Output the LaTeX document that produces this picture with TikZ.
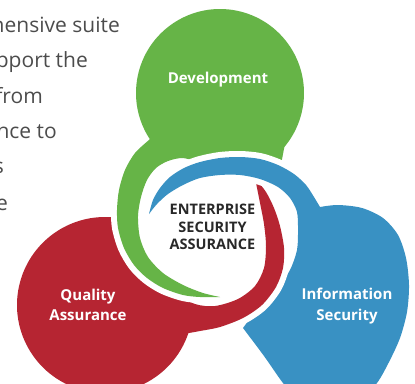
\documentclass[tikz,border=0pt]{standalone}
\usepackage{fontspec}
\setmainfont{Open Sans}
\usetikzlibrary{calc}
\definecolor{esaGreen}{RGB}{102,180,71}
\definecolor{esaRed}{RGB}{182,37,50}
\definecolor{esaBlue}{RGB}{57,145,195}
\definecolor{esaText}{RGB}{40,40,40}
\tikzset{
mySwirl/.style={
	fill=#1,
	preaction={draw=white, line width=12pt, line join=round}
}
, myLabel/.style={
	text=white, align=center, inner sep=0pt,
	font=\bfseries\fontsize{15}{20.5}\selectfont
}
, myCore/.style={
	text=esaText, align=center, inner sep=0pt,
	font=\bfseries\fontsize{14.5}{17.5}\selectfont
}
, mySide/.style={
	text=black!70, anchor=base east, inner sep=0pt,
	font=\fontsize{21}{24}\selectfont
}
}

\begin{document}
\begin{tikzpicture}[x=1pt,y=-1pt]
	\useasboundingbox (0,0) rectangle (415,383);
	% quality assurance swirl
	\path[mySwirl=esaRed]
		plot[smooth] coordinates {(255,178) (266,192) (274,208) (280,226) (284,248) (283,268) (276,287) (262,305) (243,318) (220,327) (200,331) (189,333)}
		-- ($(105,305)+(18.6:88)$) arc[start angle=18.6, end angle=275, radius=88]
		-- plot[smooth] coordinates {(122,222) (128,240) (136,260) (150,278) (172,292) (195,304) (215,306) (238,299) (255,286) (264,268) (266,246) (264,224) (260,203) (255,178)}
		-- cycle;
	% development swirl
	\path[mySwirl=esaGreen]
		plot[smooth] coordinates {(220,297) (200,297) (183,295) (163,288) (147,278) (134,265) (124,248) (118,228) (117,210) (119,190) (125,170) (135,153) (149,140)}
		-- ($(220,93)+(146.8:84)$) arc[start angle=146.8, end angle=400, radius=84]
		-- (280,170)
		-- plot[smooth] coordinates {(260,167) (235,165) (210,166) (195,161) (182,158) (168,161) (156,168) (147,180) (141,197) (138,216) (140,238) (148,257) (163,273) (183,285) (203,293) (220,297)}
		-- cycle;
	% information security swirl
	\path[mySwirl=esaBlue]
		plot[smooth] coordinates {(149,214) (153,200) (160,188) (170,177) (184,168) (200,162) (220,158) (240,157) (260,159) (278,165) (294,174) (306,185) (314,197) (320,207)}
		-- plot[smooth] coordinates {(320,207) (338,205) (362,208) (383,218) (398,235) (406,258) (409,285) (407,312) (400,338) (389,362) (377,383) (360,400) (320,405) (295,395) (283,383) (264,356) (243,328)}
		-- plot[smooth] coordinates {(243,328) (252,316) (264,302) (278,287) (290,270) (297,250) (298,230) (297,212) (290,198) (278,187) (260,179) (240,175) (220,175) (200,178) (183,185) (168,194) (157,204) (149,214)}
		-- cycle;
	% red band again, over the blue head
	\begin{scope}
		\clip (228,255) rectangle (415,383);
		\path[mySwirl=esaRed]
			plot[smooth] coordinates {(255,178) (266,192) (274,208) (280,226) (284,248) (283,268) (276,287) (262,305) (243,318) (220,327) (200,331) (189,333)}
			-- plot[smooth] coordinates {(195,304) (215,306) (238,299) (255,286) (264,268) (266,246) (264,224) (260,203) (255,178)}
			-- cycle;
	\end{scope}
	% labels
	\node[myLabel] (dev) at (218,80) {Development};
	\node[myLabel] (qa) at (88,305) {Quality\\Assurance};
	\node[myLabel] (infosec) at (347,306) {Information\\Security};
	\node[myCore] (core) at (212.5,227) {ENTERPRISE\\SECURITY\\ASSURANCE};
	% cut text on the left
	\node[mySide] (side1) at (120,32) {hensive suite};
	\node[mySide] (side2) at (88,67) {pport the};
	\node[mySide] (side3) at (43,103) {from};
	\node[mySide] (side4) at (57,138) {nce to};
	\node[mySide] (side5) at (4,173) {s};
	\node[mySide] (side6) at (8,210) {e};
\end{tikzpicture}
\end{document}
